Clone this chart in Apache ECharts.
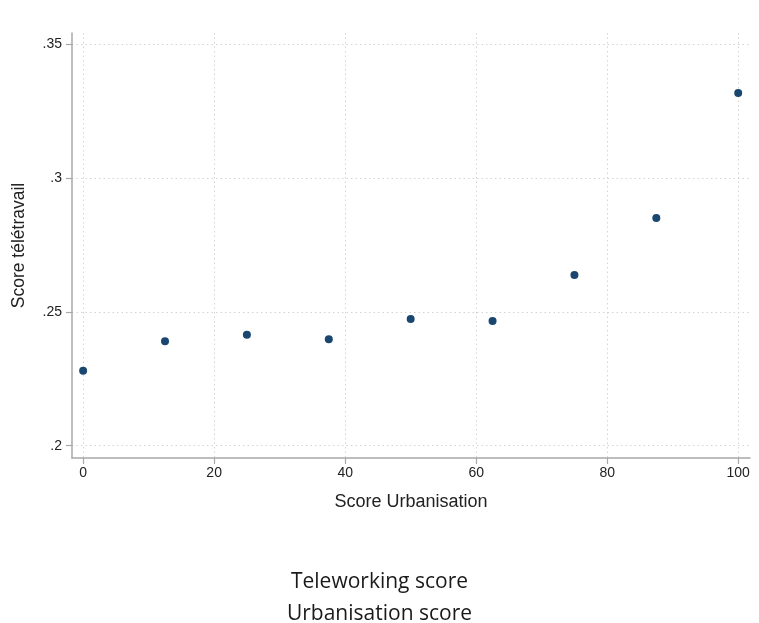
<!DOCTYPE html>
<html>
<head>
<meta charset="utf-8">
<script src="https://cdn.jsdelivr.net/npm/echarts@6/dist/echarts.min.js"></script>
<style>
  html, body { margin: 0; padding: 0; background: #fff; }
  #chart { width: 759px; height: 623px; }
</style>
</head>
<body>
<div id="chart"></div>
<script>
// Urbanisation score (x) against mean teleworking score (y)
const urbanisation = [0, 12.5, 25, 37.5, 50, 62.5, 75, 87.5, 100];
const teleworking = [0.2280, 0.2390, 0.2414, 0.2397, 0.2473, 0.2466, 0.2637, 0.2850, 0.3317];

const xTicks = [0, 20, 40, 60, 80, 100];
const yTicks = [0.2, 0.25, 0.3, 0.35];
const yTickLabels = ['.2', '.25', '.3', '.35'];

const xTitle = 'Score Urbanisation';
const yTitle = 'Score télétravail';
const captionLines = ['Teleworking score', 'Urbanisation score'];

const axisColor = '#a8a8a8';
const gridColor = '#d4d4d4';
const textColor = '#222';
const labelFont = 'Liberation Sans, Arial, sans-serif';

const chart = echarts.init(document.getElementById('chart'), null, { renderer: 'canvas' });

chart.setOption({
  backgroundColor: '#fff',
  animation: false,
  grid: { left: 72, right: 9, top: 33, bottom: 165, containLabel: false, outerBoundsMode: 'none' },
  xAxis: {
    type: 'value',
    min: -1.7,
    max: 101.8,
    name: xTitle,
    nameLocation: 'middle',
    nameGap: 35,
    nameTextStyle: { fontFamily: labelFont, fontSize: 18, color: textColor },
    axisLine: { show: true, onZero: false, lineStyle: { color: axisColor, width: 1.5 } },
    axisTick: { show: true, length: 6, customValues: xTicks, lineStyle: { color: axisColor, width: 1.2 } },
    axisLabel: {
      customValues: xTicks,
      margin: 8,
      fontFamily: labelFont, fontSize: 14, color: textColor,
      formatter: v => String(v)
    },
    splitLine: { show: true, lineStyle: { color: gridColor, type: [1.5, 3], width: 1 } }
  },
  yAxis: {
    type: 'value',
    min: 0.1954,
    max: 0.3541,
    name: yTitle,
    nameLocation: 'middle',
    nameGap: 44,
    nameRotate: 90,
    nameTextStyle: { fontFamily: labelFont, fontSize: 17.5, color: textColor },
    axisLine: { show: true, onZero: false, lineStyle: { color: axisColor, width: 1.5 } },
    axisTick: { show: true, length: 6, customValues: yTicks, lineStyle: { color: axisColor, width: 1.2 } },
    axisLabel: {
      customValues: yTicks,
      margin: 10,
      fontFamily: labelFont, fontSize: 14, color: textColor,
      formatter: v => {
        const i = yTicks.findIndex(t => Math.abs(t - v) < 1e-9);
        return i >= 0 ? yTickLabels[i] : '';
      }
    },
    splitLine: { show: true, lineStyle: { color: gridColor, type: [1.5, 3], width: 1 } }
  },
  series: [{
    type: 'scatter',
    data: urbanisation.map((x, i) => [x, teleworking[i]]),
    symbol: 'circle',
    symbolSize: 8,
    itemStyle: { color: '#1a476f', opacity: 1 },
    emphasis: { disabled: true }
  }],
  graphic: [
    {
      type: 'text', left: 'center', top: 572,
      style: { text: captionLines[0], fontFamily: 'Open Sans, sans-serif', fontSize: 21, fill: '#1a1a1a' }
    },
    {
      type: 'text', left: 'center', top: 604,
      style: { text: captionLines[1], fontFamily: 'Open Sans, sans-serif', fontSize: 21, fill: '#1a1a1a' }
    }
  ]
});
</script>
</body>
</html>
